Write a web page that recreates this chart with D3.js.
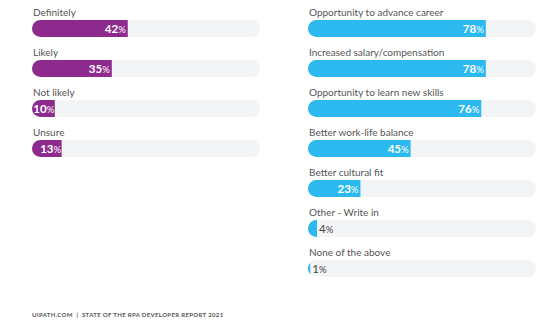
<!DOCTYPE html>
<html><head><meta charset="utf-8">
<script src="https://cdn.jsdelivr.net/npm/d3@7"></script>
<style>
html,body{margin:0;padding:0;background:#fff;}
svg{display:block;font-family:Lato,"Open Sans",sans-serif;}
</style></head><body>
<svg id="c" width="556" height="330"></svg>
<script>
const leftCategories = ["Definitely","Likely","Not likely","Unsure"];
const leftValues = [42,35,10,13];
const rightCategories = ["Opportunity to advance career","Increased salary/compensation","Opportunity to learn new skills","Better work-life balance","Better cultural fit","Other - Write in","None of the above"];
const rightValues = [78,78,76,45,23,4,1];
const footerText = "UIPATH.COM  |  STATE OF THE RPA DEVELOPER REPORT 2021";

const svg = d3.select("#c");
const defs = svg.append("defs");
let clipId = 0;

function panel(cats, vals, x0, x1, color) {
  const x = d3.scaleLinear().domain([0,100]).range([x0,x1]);
  const y = d3.scaleBand().domain(cats).range([6, 6 + 40*cats.length]).paddingInner(0);
  const bh = 17, r = 8.5;
  const g = svg.append("g");
  cats.forEach((c,i)=>{
    const v = vals[i];
    const top = y(c) + 14;
    g.append("text").attr("x", x0+1).attr("y", top-4).attr("font-size",10).attr("fill","#555")
      .text(c);
    g.append("rect").attr("x",x0).attr("y",top).attr("width",x1-x0).attr("height",bh)
      .attr("rx",r).attr("fill","#f3f4f6");
    const w = x(v)-x0;
    const id = "clip"+(clipId++);
    defs.append("clipPath").attr("id",id).append("rect")
      .attr("x",x0).attr("y",top).attr("width",w).attr("height",bh);
    g.append("rect").attr("x",x0).attr("y",top).attr("width",w+2*r).attr("height",bh)
      .attr("rx",r).attr("fill",color).attr("clip-path","url(#"+id+")");
    const inside = w > 20;
    const t = g.append("text").attr("y", top+bh/2+4).attr("font-weight","bold");
    if (inside) {
      t.attr("x", x(v) - (w < 30 ? 0.5 : 2)).attr("text-anchor","end").attr("fill","#fff");
    } else {
      t.attr("x", x(v)+2).attr("text-anchor","start").attr("fill","#444");
    }
    t.append("tspan").attr("font-size",11.5).attr("font-weight", inside? "bold":"normal").text(v);
    t.append("tspan").attr("font-size",9.5).attr("font-weight","normal").text("%");
  });
}
panel(leftCategories, leftValues, 32, 260, "#8e2a8e");
panel(rightCategories, rightValues, 308, 536, "#2bb9ef");

svg.append("text").attr("x",32).attr("y",317).attr("font-size",6).attr("font-weight","bold")
  .attr("letter-spacing",0.35).attr("fill","#555")
  .style("white-space","pre").text(footerText);
</script>
</body></html>
